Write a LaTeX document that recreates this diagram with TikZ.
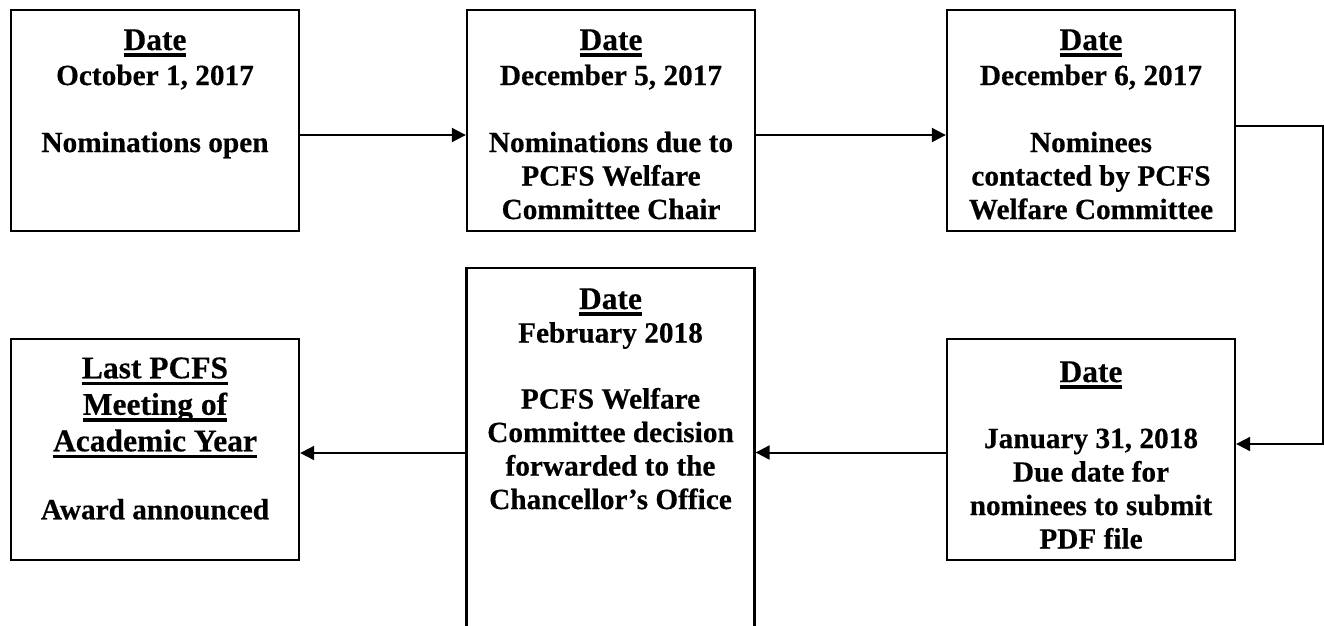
\documentclass[tikz,border=0pt]{standalone}
\usepackage{fontspec}
\usetikzlibrary{arrows.meta}
\newfontfamily\boxfont{Liberation Serif}[FakeBold=0.4]
\newcommand\myul[1]{{\fontsize{31.5pt}{36pt}\selectfont\setbox0\hbox{#1}\rlap{\rule[-7pt]{\wd0}{3.6pt}}\box0}}
\tikzset{
  stepbox/.style={draw, line width=2.3pt, inner sep=0pt, minimum width=288pt, minimum height=221pt},
  boxtext/.style={anchor=north, inner sep=0pt, align=center,
    font=\boxfont\bfseries\fontsize{29.3pt}{33.5pt}\selectfont},
  arr/.style={line width=2pt, -{Triangle[length=14pt,width=14pt]}},
}
\begin{document}
\begin{tikzpicture}[x=1pt,y=-1pt]
\useasboundingbox (0,0) rectangle (1324,625);
% boxes
\node[stepbox] (b1) at (155,120.5) {};
\node[stepbox] (b2) at (611,120.5) {};
\node[stepbox] (b3) at (1091,120.5) {};
\node[stepbox] (b4) at (155,449.5) {};
\node[stepbox, minimum height=382pt] (b5) at (610.5,459) {};
\node[stepbox] (b6) at (1091,449.5) {};
% texts
\node[boxtext] (t1) at (155,29.2) {\myul{Date}\\[1.5pt]October 1, 2017\\[33.5pt]Nominations open};
\node[boxtext] (t2) at (611,29.2) {\myul{Date}\\[1.5pt]December 5, 2017\\[33.5pt]Nominations due to\\PCFS Welfare\\Committee Chair};
\node[boxtext] (t3) at (1091,29.2) {\myul{Date}\\[1.5pt]December 6, 2017\\[33.5pt]Nominees\\contacted by PCFS\\Welfare Committee};
\node[boxtext] (t4) at (155,357.2) {\myul{Last PCFS}\\[3pt]\myul{Meeting of}\\[3pt]\myul{Academic Year}\\[34.5pt]Award announced};
\node[boxtext] (t5) at (610.5,288.2) {\myul{Date}\\February 2018\\[32.5pt]PCFS Welfare\\Committee decision\\forwarded to the\\Chancellor’s Office};
\node[boxtext] (t6) at (1091,361.2) {\myul{Date}\\[32.5pt]January 31, 2018\\Due date for\\nominees to submit\\PDF file};
% connectors
\draw[arr] ([yshift=-14.5pt]b1.east) -- ([yshift=-14.5pt]b2.west);
\draw[arr] ([yshift=-14.5pt]b2.east) -- ([yshift=-14.5pt]b3.west);
\draw[arr] ([yshift=-5.5pt]b3.east) -- ++(87,0) |- ([yshift=5.5pt]b6.east);
\draw[arr] ([yshift=-3pt]b6.west) -- ([yshift=6.5pt]b5.east);
\draw[arr] ([yshift=6pt]b5.west) -- ([yshift=-3.5pt]b4.east);
\end{tikzpicture}
\end{document}
